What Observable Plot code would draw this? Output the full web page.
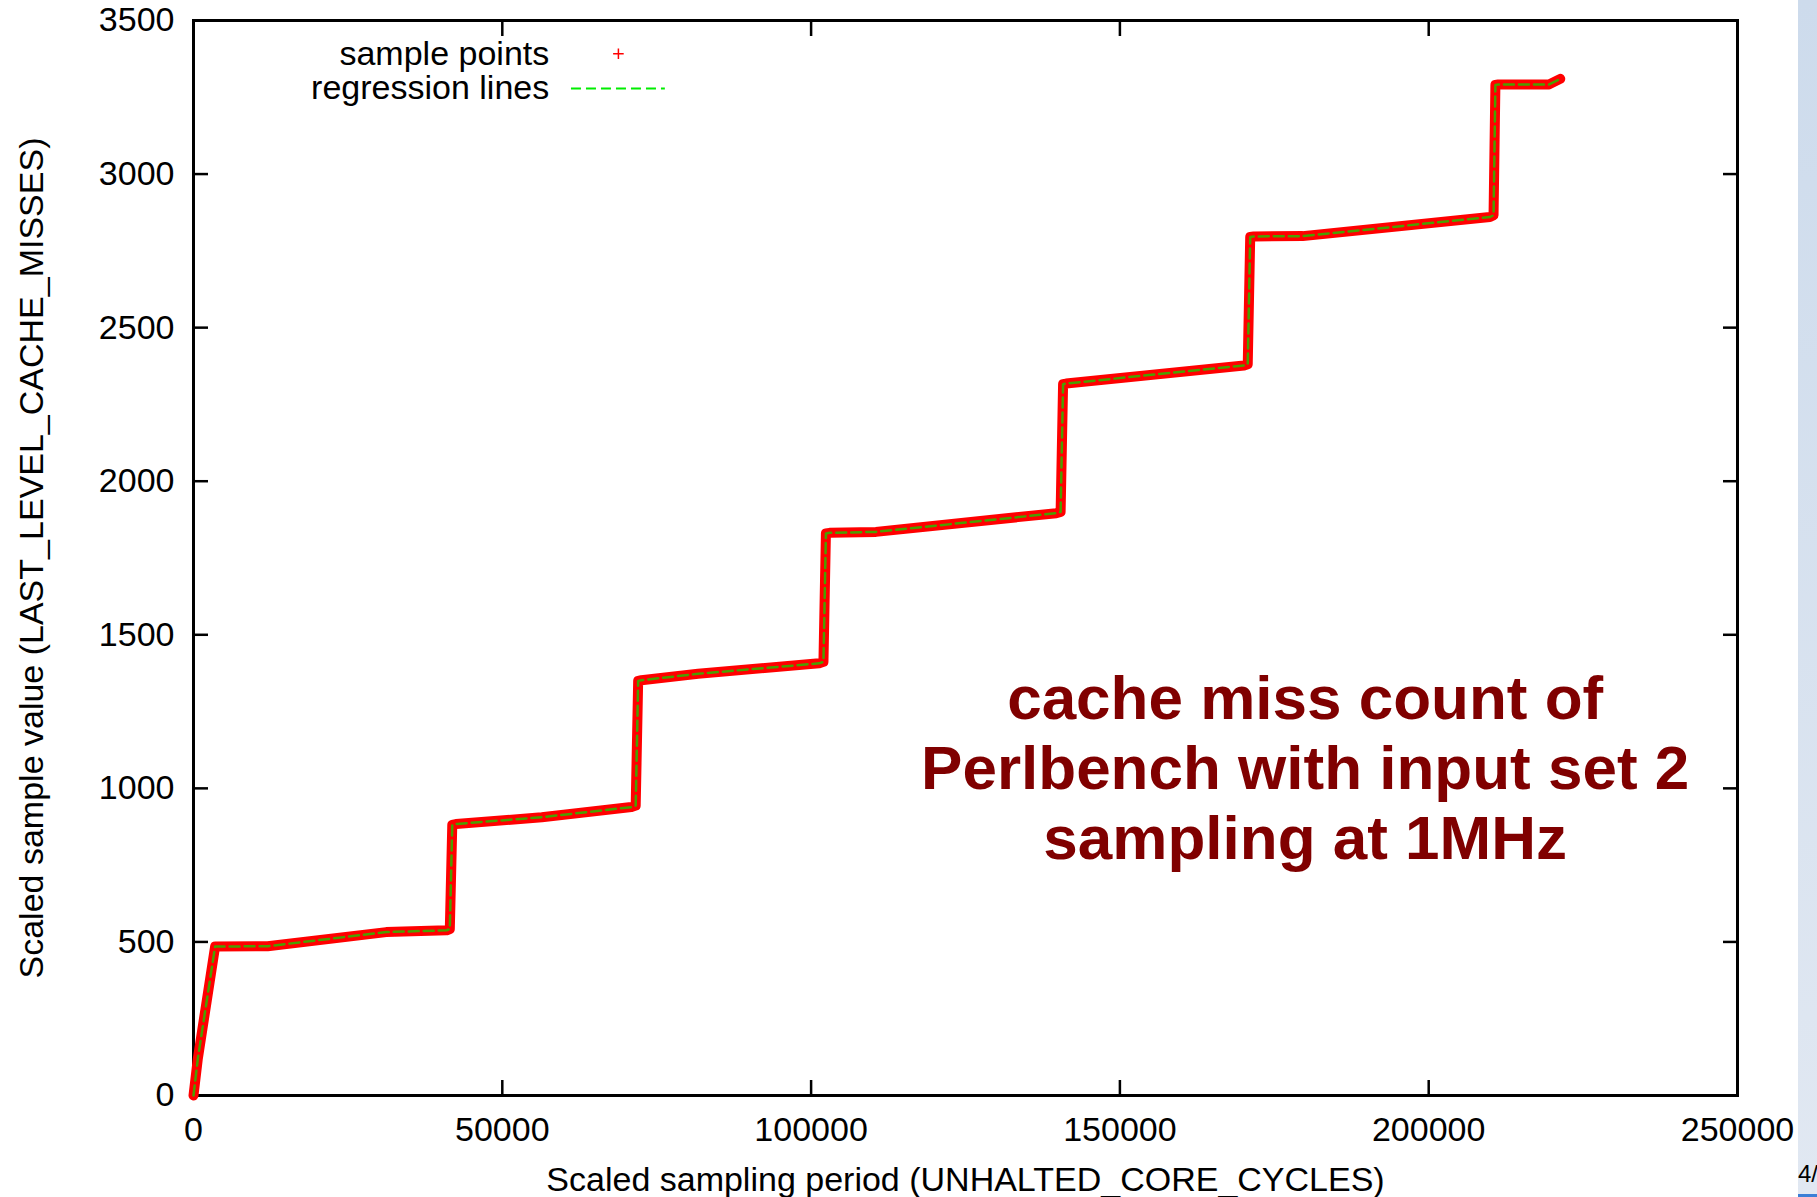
<!DOCTYPE html>
<html><head><meta charset="utf-8">
<script src="https://cdn.jsdelivr.net/npm/d3@7"></script>
<script src="https://cdn.jsdelivr.net/npm/@observablehq/plot@0.6"></script>
<style>
html,body{margin:0;padding:0;background:#fff;}
#wrap{position:relative;width:1817px;height:1197px;overflow:hidden;font-family:"Liberation Sans",Arial,Helvetica,sans-serif;}
#side{position:absolute;left:1798px;top:0;width:19px;height:1197px;background:linear-gradient(#cddbec,#e1e8f2);}
#pg{position:absolute;left:1798px;top:1162px;font-size:24px;line-height:24px;color:#000;white-space:nowrap;}
#pgline{position:absolute;left:1798px;top:1194px;width:19px;height:3px;background:#3b7fd6;}
</style></head><body><div id="wrap"></div><script>
// ---- data ----
const xTicks = [0, 50000, 100000, 150000, 200000, 250000];
const yTicks = [0, 500, 1000, 1500, 2000, 2500, 3000, 3500];
const xLabel = "Scaled sampling period (UNHALTED_CORE_CYCLES)";
const yLabel = "Scaled sample value (LAST_LEVEL_CACHE_MISSES)";
const sampleX = [0, 700, 3500, 12000, 31200, 41000, 41500, 41900, 42500, 56400, 70900, 71600, 72000, 72500, 81700, 101300, 102000, 102400, 103000, 110500, 139700, 140400, 140800, 141300, 170100, 170700, 171100, 171700, 179600, 209900, 210500, 210800, 211300, 219500, 221300];
const sampleY = [0, 120, 485, 486, 532, 538, 542, 881, 884, 906, 939, 944, 1350, 1352, 1373, 1407, 1412, 1830, 1832, 1835, 1896, 1900, 2316, 2318, 2377, 2381, 2795, 2797, 2798, 2860, 2866, 3290, 3292, 3292, 3310];
const regressionX = sampleX;
const regressionY = sampleY;
const legendLabels = ["sample points", "regression lines"];
const legendTextX = 57600;
const legendTextY = [3392, 3279];
const legendMarkX = 68800;
const legendLineX = [61200, 76400];
const annotation = "cache miss count of\nPerlbench with input set 2\nsampling at 1MHz";
const annotationX = 180000;
const annotationY = 1071;

const samples = sampleX.map((x, i) => ({x, y: sampleY[i]}));
const regression = regressionX.map((x, i) => ({x, y: regressionY[i]}));
const legend = legendLabels.map((t, i) => ({t, y: legendTextY[i]}));

const font = "Liberation Sans, Arial, Helvetica, sans-serif";
const fmt = d3.format("d");

const chart = Plot.plot({
  width: 1817, height: 1197,
  marginLeft: 193, marginRight: 80, marginTop: 20, marginBottom: 102,
  style: {fontFamily: font, fontSize: "34px", background: "transparent", color: "#000"},
  x: {domain: [0, 250000]},
  y: {domain: [0, 3500]},
  marks: [
    Plot.frame({stroke: "#000", strokeWidth: 3}),
    Plot.axisX(xTicks, {anchor: "bottom", tickSize: -15, strokeWidth: 2.5, fill: "none"}),
    Plot.axisX(xTicks, {anchor: "top", tickSize: -15, strokeWidth: 2.5, fill: "none"}),
    Plot.axisY(yTicks, {anchor: "left", tickSize: -15, strokeWidth: 2.5, fill: "none"}),
    Plot.axisY(yTicks, {anchor: "right", tickSize: -15, strokeWidth: 2.5, fill: "none"}),
    Plot.axisX(xTicks, {anchor: "bottom", tickSize: 0, tickPadding: 21, tickFormat: fmt, label: null, fontSize: 34, fill: "#000"}),
    Plot.axisY(yTicks, {anchor: "left", tickSize: 0, tickPadding: 19, tickFormat: fmt, label: null, fontSize: 34, fill: "#000"}),
    Plot.text([xLabel], {frameAnchor: "bottom", dy: 85, lineAnchor: "middle", textAnchor: "middle", fontSize: 34, fill: "#000"}),
    Plot.text([yLabel], {frameAnchor: "left", dx: -161, rotate: -90, textAnchor: "middle", lineAnchor: "middle", fontSize: 34, fill: "#000"}),
    Plot.line(samples, {x: "x", y: "y", stroke: "#ff0000", strokeWidth: 10, strokeLinejoin: "round", strokeLinecap: "round"}),
    Plot.line(regression, {x: "x", y: "y", stroke: "#4a9f00", strokeWidth: 2.5, strokeDasharray: "10,5"}),
    Plot.text([annotation], {x: () => annotationX, y: () => annotationY, fontSize: 62, fontWeight: "bold", fill: "#800000", lineHeight: 1.13, textAnchor: "middle"}),
    Plot.text(legend, {x: () => legendTextX, y: "y", text: "t", textAnchor: "end", fontSize: 34, fill: "#000"}),
    Plot.dot([legendTextY[0]], {x: () => legendMarkX, y: d => d, symbol: "plus", r: 3.5, stroke: "#ff0000", strokeWidth: 1.5}),
    Plot.ruleY([legendTextY[1]], {x1: legendLineX[0], x2: legendLineX[1], stroke: "#00ee00", strokeWidth: 2, strokeDasharray: "10,5"})
  ]
});
const wrap = document.getElementById("wrap");
wrap.appendChild(chart);
const side = document.createElement("div"); side.id = "side"; wrap.appendChild(side);
const pg = document.createElement("div"); pg.id = "pg"; pg.textContent = "4/"; wrap.appendChild(pg);
const pgl = document.createElement("div"); pgl.id = "pgline"; wrap.appendChild(pgl);
chart.style.position = "absolute"; chart.style.left = "0"; chart.style.top = "0";
</script></body></html>
